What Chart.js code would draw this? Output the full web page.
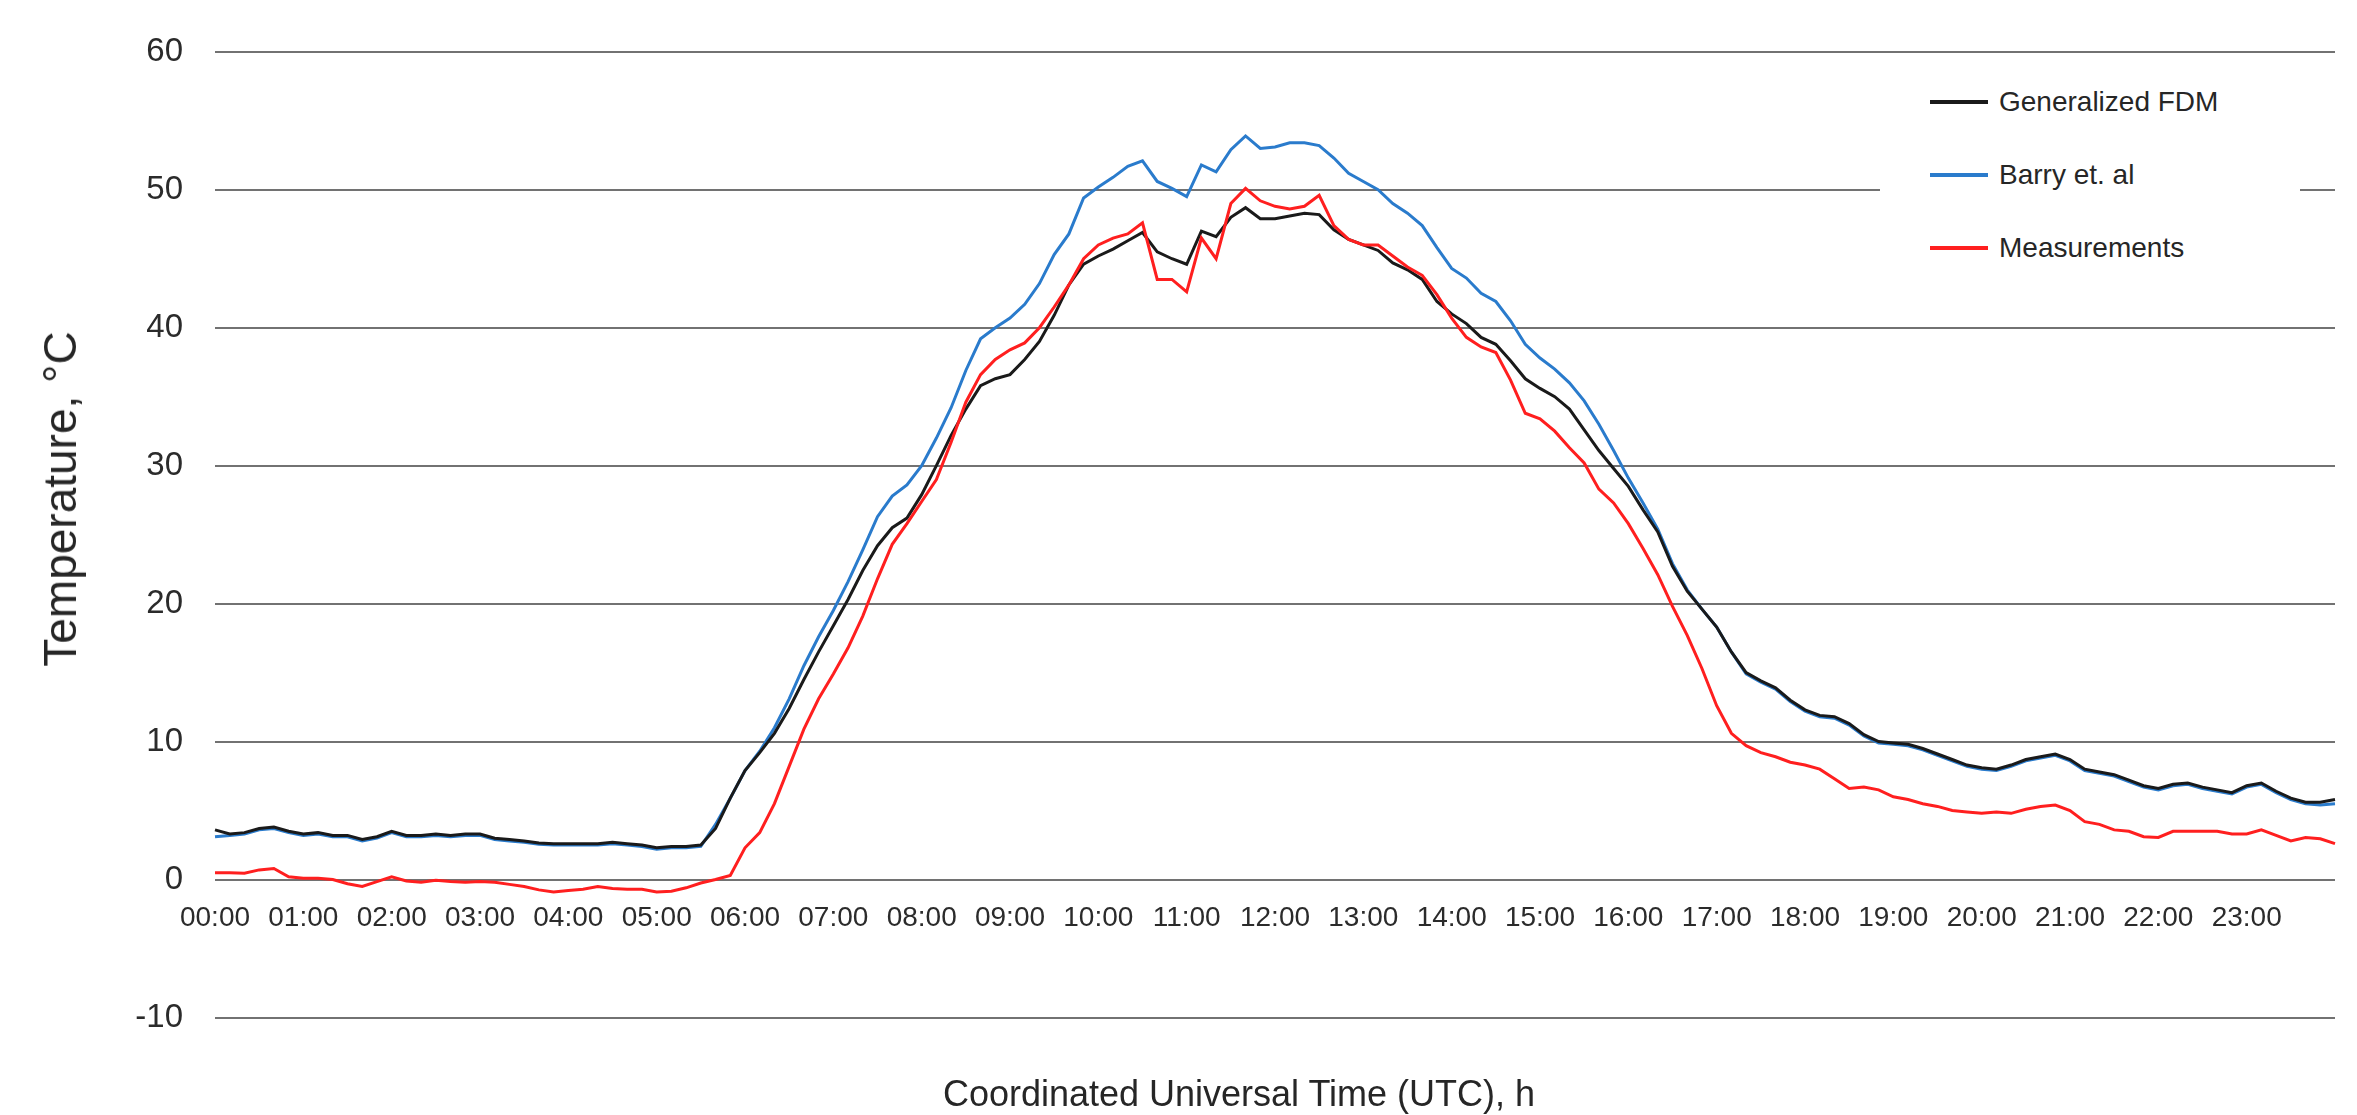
<!DOCTYPE html>
<html lang="en">
<head>
<meta charset="UTF-8">
<title>Temperature - UTC</title>
<script src="https://cdn.jsdelivr.net/npm/chart.js"></script>
<style>
    body { margin: 0; background: #fff; }
    #caixa { position: relative; width: 2357px; height: 1115px; font-family: 'Liberation Sans', Arial, sans-serif; color: #333; }
    #grafico { position: absolute; left: 0; top: 0; }
    .legenda { position: absolute; left: 1880px; top: 62px; width: 420px; height: 226px; background: #fff; }
    .item { position: absolute; left: 0; height: 40px; width: 420px; }
    .item span.linha { position: absolute; left: 50px; top: 18px; width: 58px; height: 4px; }
    .item span.texto { position: absolute; left: 119px; top: 3px; font-size: 28px; line-height: 34px; white-space: nowrap; color: #262626; }
    #tituloY { position: absolute; left: 60px; top: 499px; transform: translate(-50%, -50%) rotate(-90deg); font-size: 46px; white-space: nowrap; color: #262626; }
    #tituloX { position: absolute; left: 1239px; top: 1094px; transform: translate(-50%, -50%); font-size: 36px; white-space: nowrap; color: #262626; }
</style>
</head>
<body>
<div id="caixa">
    <canvas id="grafico" width="2357" height="1115"></canvas>

    <div class="legenda">
        <div class="item" style="top:20px"><span class="linha" style="background:#1a1a1a"></span><span class="texto">Generalized FDM</span></div>
        <div class="item" style="top:93px"><span class="linha" style="background:#2a7bcc"></span><span class="texto">Barry et. al</span></div>
        <div class="item" style="top:166px"><span class="linha" style="background:#ff1f1f"></span><span class="texto">Measurements</span></div>
    </div>

    <div id="tituloY">Temperature, °C</div>
    <div id="tituloX">Coordinated Universal Time (UTC), h</div>
</div>

<script>
// horarios a cada 10 minutos
var horarios = [
    "00:00","00:10","00:20","00:30","00:40","00:50",
    "01:00","01:10","01:20","01:30","01:40","01:50",
    "02:00","02:10","02:20","02:30","02:40","02:50",
    "03:00","03:10","03:20","03:30","03:40","03:50",
    "04:00","04:10","04:20","04:30","04:40","04:50",
    "05:00","05:10","05:20","05:30","05:40","05:50",
    "06:00","06:10","06:20","06:30","06:40","06:50",
    "07:00","07:10","07:20","07:30","07:40","07:50",
    "08:00","08:10","08:20","08:30","08:40","08:50",
    "09:00","09:10","09:20","09:30","09:40","09:50",
    "10:00","10:10","10:20","10:30","10:40","10:50",
    "11:00","11:10","11:20","11:30","11:40","11:50",
    "12:00","12:10","12:20","12:30","12:40","12:50",
    "13:00","13:10","13:20","13:30","13:40","13:50",
    "14:00","14:10","14:20","14:30","14:40","14:50",
    "15:00","15:10","15:20","15:30","15:40","15:50",
    "16:00","16:10","16:20","16:30","16:40","16:50",
    "17:00","17:10","17:20","17:30","17:40","17:50",
    "18:00","18:10","18:20","18:30","18:40","18:50",
    "19:00","19:10","19:20","19:30","19:40","19:50",
    "20:00","20:10","20:20","20:30","20:40","20:50",
    "21:00","21:10","21:20","21:30","21:40","21:50",
    "22:00","22:10","22:20","22:30","22:40","22:50",
    "23:00","23:10","23:20","23:30","23:40","23:50",
    "24:00"
];

// Generalized FDM
var fdm = [
    3.6, 3.3, 3.4, 3.7, 3.8, 3.5,
    3.3, 3.4, 3.2, 3.2, 2.9, 3.1,
    3.5, 3.2, 3.2, 3.3, 3.2, 3.3,
    3.3, 3.0, 2.9, 2.8, 2.65, 2.6,
    2.6, 2.6, 2.6, 2.7, 2.6, 2.5,
    2.3, 2.4, 2.4, 2.5, 3.7, 5.9,
    7.9, 9.2, 10.6, 12.4, 14.5, 16.5,
    18.4, 20.3, 22.4, 24.2, 25.5, 26.2,
    27.9, 30.0, 32.2, 34.1, 35.8, 36.3,
    36.6, 37.7, 39.0, 40.9, 43.1, 44.6,
    45.2, 45.7, 46.3, 46.9, 45.5, 45.0,
    44.6, 47.0, 46.6, 48.0, 48.7, 47.9,
    47.9, 48.1, 48.3, 48.2, 47.1, 46.4,
    46.0, 45.6, 44.7, 44.2, 43.5, 41.9,
    41.0, 40.3, 39.3, 38.8, 37.6, 36.3,
    35.6, 35.0, 34.1, 32.6, 31.1, 29.8,
    28.5, 26.8, 25.2, 22.7, 20.9, 19.6,
    18.3, 16.5, 15.0, 14.4, 13.9, 13.0,
    12.3, 11.9, 11.8, 11.3, 10.5, 10.0,
    9.9, 9.8, 9.5, 9.1, 8.7, 8.3,
    8.1, 8.0, 8.3, 8.7, 8.9, 9.1,
    8.7, 8.0, 7.8, 7.6, 7.2, 6.8,
    6.6, 6.9, 7.0, 6.7, 6.5, 6.3,
    6.8, 7.0, 6.4, 5.9, 5.6, 5.6,
    5.8
];

// Barry et. al
var barry = [
    3.1, 3.2, 3.3, 3.6, 3.7, 3.4,
    3.2, 3.3, 3.1, 3.1, 2.8, 3.0,
    3.4, 3.1, 3.1, 3.2, 3.1, 3.2,
    3.2, 2.9, 2.8, 2.7, 2.55, 2.5,
    2.5, 2.5, 2.5, 2.6, 2.5, 2.4,
    2.2, 2.3, 2.3, 2.4, 4.0, 5.9,
    7.9, 9.3, 11.0, 13.1, 15.5, 17.6,
    19.5, 21.6, 23.9, 26.3, 27.8, 28.6,
    30.0, 32.0, 34.2, 36.9, 39.2, 40.0,
    40.7, 41.7, 43.2, 45.3, 46.8, 49.4,
    50.2, 50.9, 51.7, 52.1, 50.6, 50.1,
    49.5, 51.8, 51.3, 52.9, 53.9, 53.0,
    53.1, 53.4, 53.4, 53.2, 52.3, 51.2,
    50.6, 50.0, 49.0, 48.3, 47.4, 45.8,
    44.3, 43.6, 42.5, 41.9, 40.5, 38.8,
    37.8, 37.0, 36.0, 34.7, 33.0, 31.1,
    29.1, 27.3, 25.4, 22.9, 21.0, 19.6,
    18.3, 16.5, 14.9, 14.3, 13.8, 12.9,
    12.2, 11.8, 11.7, 11.2, 10.4, 9.9,
    9.8, 9.7, 9.4, 9.0, 8.6, 8.2,
    8.0, 7.9, 8.2, 8.6, 8.8, 9.0,
    8.6, 7.9, 7.7, 7.5, 7.1, 6.7,
    6.5, 6.8, 6.9, 6.6, 6.4, 6.2,
    6.7, 6.9, 6.3, 5.8, 5.5, 5.4,
    5.5
];

// Measurements
var medicoes = [
    0.5, 0.5, 0.45, 0.7, 0.8, 0.2,
    0.1, 0.1, 0.0, -0.3, -0.5, -0.15,
    0.2, -0.1, -0.2, -0.05, -0.15, -0.2,
    -0.15, -0.2, -0.35, -0.5, -0.75, -0.9,
    -0.8, -0.7, -0.5, -0.65, -0.7, -0.7,
    -0.9, -0.85, -0.6, -0.25, 0.0, 0.3,
    2.3, 3.4, 5.5, 8.2, 10.9, 13.1,
    14.9, 16.8, 19.1, 21.8, 24.3, 25.8,
    27.4, 29.0, 31.7, 34.6, 36.6, 37.7,
    38.4, 38.9, 40.0, 41.5, 43.1, 45.0,
    46.0, 46.5, 46.8, 47.6, 43.5, 43.5,
    42.6, 46.5, 45.0, 49.0, 50.1, 49.2,
    48.8, 48.6, 48.8, 49.6, 47.4, 46.4,
    46.0, 46.0, 45.2, 44.4, 43.8, 42.4,
    40.7, 39.3, 38.6, 38.2, 36.2, 33.8,
    33.4, 32.5, 31.3, 30.2, 28.3, 27.3,
    25.8, 24.0, 22.1, 19.8, 17.7, 15.3,
    12.6, 10.6, 9.7, 9.2, 8.9, 8.5,
    8.3, 8.0, 7.3, 6.6, 6.7, 6.5,
    6.0, 5.8, 5.5, 5.3, 5.0, 4.9,
    4.8, 4.9, 4.8, 5.1, 5.3, 5.4,
    5.0, 4.2, 4.0, 3.6, 3.5, 3.1,
    3.05, 3.5, 3.5, 3.5, 3.5, 3.3,
    3.3, 3.6, 3.2, 2.8, 3.05, 2.95,
    2.6
];

var ticksY = [-10, 0, 10, 20, 30, 40, 50, 60];

const ctx = document.getElementById("grafico");

new Chart(ctx, {
    type: "line",
    data: {
        labels: horarios,
        datasets: [
            {
                label: "Generalized FDM",
                data: fdm,
                borderColor: "#1a1a1a",
                borderWidth: 3,
                order: 2
            },
            {
                label: "Barry et. al",
                data: barry,
                borderColor: "#2a7bcc",
                borderWidth: 3,
                order: 3
            },
            {
                label: "Measurements",
                data: medicoes,
                borderColor: "#ff1f1f",
                borderWidth: 3,
                order: 1
            }
        ]
    },
    options: {
        responsive: false,
        animation: false,
        events: [],
        layout: {
            padding: { top: 31.5, right: 9, bottom: 97.5, left: 0 }
        },
        elements: {
            point: { radius: 0 },
            line: { tension: 0 }
        },
        plugins: {
            legend: { display: false },
            tooltip: { enabled: false }
        },
        scales: {
            x: {
                // eixo horizontal cruza em 0
                position: { y: 0 },
                grid: { display: false, drawTicks: false },
                border: { display: false },
                ticks: {
                    autoSkip: false,
                    maxRotation: 0,
                    padding: 22,
                    color: "#2b2b2b",
                    font: { family: "'Liberation Sans'", size: 28 },
                    callback: function (valor, i) {
                        var h = horarios[i];
                        if (h.endsWith(":00") && h != "24:00") {
                            return h;
                        }
                        return "";
                    }
                },
                afterFit: function (escala) {
                    escala.height = 0;
                }
            },
            y: {
                min: -10,
                max: 60,
                afterBuildTicks: function (escala) {
                    escala.ticks = ticksY.map(function (v) { return { value: v }; });
                },
                grid: { color: "#727272", lineWidth: 2, drawTicks: false },
                border: { display: false },
                ticks: {
                    padding: 32,
                    color: "#2b2b2b",
                    font: { family: "'Liberation Sans'", size: 33 }
                },
                afterFit: function (escala) {
                    escala.width = 215;
                }
            }
        }
    }
});
</script>
</body>
</html>
